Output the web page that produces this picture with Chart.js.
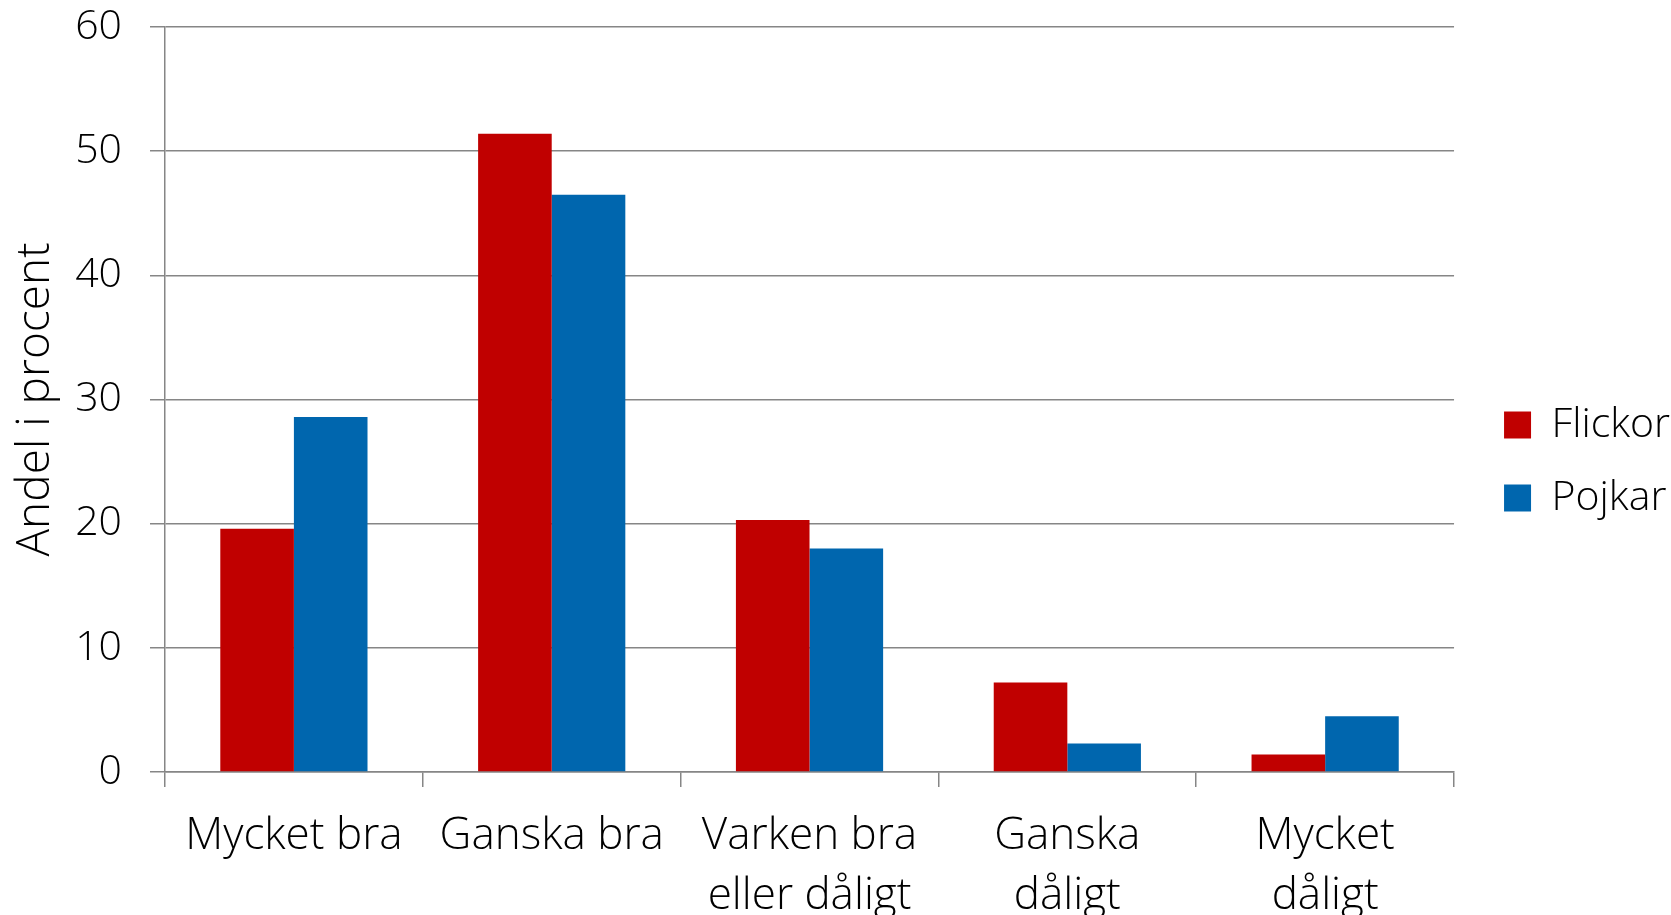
<!DOCTYPE html>
<html>
<head>
<meta charset="utf-8">
<script src="https://cdn.jsdelivr.net/npm/chart.js@4.4.1/dist/chart.umd.min.js"></script>
<style>
  html, body { margin: 0; padding: 0; background: #fff; }
  #wrap { width: 1671px; height: 915px; position: relative; }
</style>
</head>
<body>
<div id="wrap"><canvas id="my"></canvas></div>
<script>
// data
const categories = [
  ['Mycket bra'],
  ['Ganska bra'],
  ['Varken bra', 'eller dåligt'],
  ['Ganska', 'dåligt'],
  ['Mycket', 'dåligt']
];
const flickor = [19.6, 51.4, 20.3, 7.2, 1.4];
const pojkar = [28.6, 46.5, 18.0, 2.3, 4.5];
const yTicks = [0, 10, 20, 30, 40, 50, 60];
const yTitle = 'Andel i procent';

const gridGrey = '#868686';
const family = "'Open Sans', sans-serif";

// push the legend a little away from the plot, like the original
const legendNudge = {
  id: 'legendNudge',
  afterLayout: function(chart) {
    chart.legend.left += 18;
    chart.legend.right += 18;
    chart.legend.top += 4;
    chart.legend.bottom += 4;
  }
};

const ctx = document.getElementById('my');

new Chart(ctx, {
  type: 'bar',
  data: {
    labels: categories,
    datasets: [
      {
        label: 'Flickor',
        data: flickor,
        backgroundColor: '#C00000',
        borderWidth: 0
      },
      {
        label: 'Pojkar',
        data: pojkar,
        backgroundColor: '#0066AE',
        borderWidth: 0
      }
    ]
  },
  plugins: [legendNudge],
  options: {
    responsive: true,
    maintainAspectRatio: false,
    animation: false,
    categoryPercentage: 0.571,
    barPercentage: 1.0,
    layout: {
      padding: { top: 0, left: 8, right: 9, bottom: 0 }
    },
    plugins: {
      tooltip: { enabled: false },
      legend: {
        position: 'right',
        labels: {
          color: '#000',
          font: { family: family, size: 41, weight: 300 },
          boxWidth: 27,
          boxHeight: 27,
          padding: 32
        }
      }
    },
    scales: {
      x: {
        offset: true,
        grid: {
          offset: true,
          drawOnChartArea: false,
          color: gridGrey,
          lineWidth: 1.5,
          tickLength: 15
        },
        border: { color: gridGrey, width: 1.5 },
        ticks: {
          color: '#000',
          font: { family: family, size: 44, weight: 300, lineHeight: 1.36 },
          padding: 20,
          maxRotation: 0,
          autoSkip: false
        },
        afterFit: function(scale) { scale.height = 143; }
      },
      y: {
        min: 0,
        max: 60,
        afterBuildTicks: function(scale) {
          scale.ticks = yTicks.map(function(v) { return { value: v }; });
        },
        grid: {
          color: gridGrey,
          lineWidth: 1.5,
          tickLength: 15
        },
        border: { color: gridGrey, width: 1.5 },
        ticks: {
          color: '#000',
          font: { family: family, size: 41, weight: 300 },
          padding: 28
        },
        title: {
          display: true,
          text: yTitle,
          color: '#000',
          font: { family: family, size: 46, weight: 300 },
          padding: 0
        },
        afterFit: function(scale) {
          scale.width = 157;
          scale.paddingTop = 27;
        }
      }
    }
  }
});
</script>
</body>
</html>
